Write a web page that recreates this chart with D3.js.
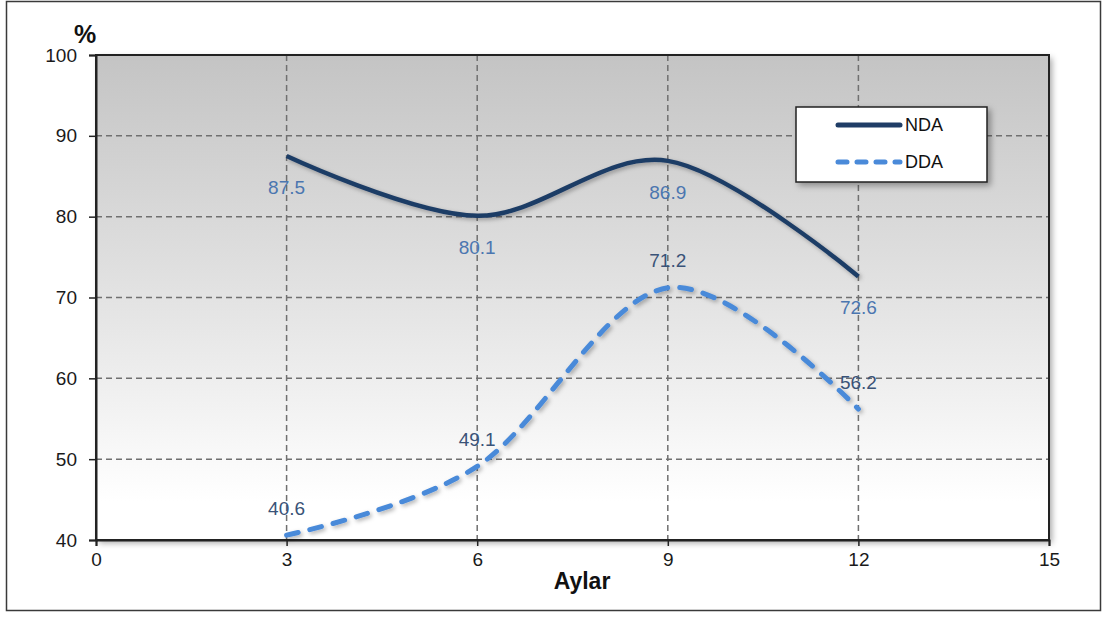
<!DOCTYPE html>
<html><head><meta charset="utf-8">
<script src="https://cdn.jsdelivr.net/npm/d3@7"></script>
<style>html,body{margin:0;padding:0;background:#fff;}svg{display:block;font-family:"Liberation Sans",Arial,sans-serif;}</style>
</head><body>
<svg id="c" width="1103" height="617"></svg>
<script>
const months = [3, 6, 9, 12];
const ndaValues = [87.5, 80.1, 86.9, 72.6];
const ddaValues = [40.6, 49.1, 71.2, 56.2];
const seriesNames = ["NDA", "DDA"];
const xTicks = [0, 3, 6, 9, 12, 15];
const yTicks = [40, 50, 60, 70, 80, 90, 100];

const svg = d3.select("#c");
const L = 96, R = 1049, T = 55, B = 540;
const x = d3.scaleLinear().domain([0, 15]).range([L, R]);
const y = d3.scaleLinear().domain([40, 100]).range([B, T]);

const defs = svg.append("defs");
const g = defs.append("linearGradient").attr("id","bg").attr("x1",0).attr("y1",0).attr("x2",0).attr("y2",1);
g.append("stop").attr("offset","0%").attr("stop-color","#c4c4c4");
g.append("stop").attr("offset","55%").attr("stop-color","#e6e6e6");
g.append("stop").attr("offset","92%").attr("stop-color","#ffffff");
g.append("stop").attr("offset","100%").attr("stop-color","#ffffff");
const f = defs.append("filter").attr("id","sh").attr("x","-10%").attr("y","-10%").attr("width","130%").attr("height","130%");
f.append("feDropShadow").attr("dx",3).attr("dy",3).attr("stdDeviation",3).attr("flood-color","#000").attr("flood-opacity",0.35);
const f2 = defs.append("filter").attr("id","lsh").attr("x","-10%").attr("y","-20%").attr("width","130%").attr("height","150%");
f2.append("feDropShadow").attr("dx",2).attr("dy",2).attr("stdDeviation",2).attr("flood-color","#000").attr("flood-opacity",0.3);

// outer border
svg.append("rect").attr("x",6.5).attr("y",1.5).attr("width",1094).attr("height",609)
  .attr("fill","#fff").attr("stroke","#3a3a3a").attr("stroke-width",1.5);

// plot area
svg.append("rect").attr("x",L).attr("y",T).attr("width",R-L).attr("height",B-T)
  .attr("fill","url(#bg)").attr("filter","url(#sh)");

// grid
const grid = svg.append("g").attr("stroke","#707070").attr("stroke-width",1.5).attr("stroke-dasharray","6,4");
grid.selectAll(".gy").data(yTicks.filter(v=>v>40 && v<100)).enter().append("line")
  .attr("x1",L).attr("x2",R).attr("y1",d=>y(d)).attr("y2",d=>y(d));
grid.selectAll(".gx").data(xTicks.filter(v=>v>0 && v<15)).enter().append("line")
  .attr("y1",T).attr("y2",B).attr("x1",d=>x(d)).attr("x2",d=>x(d));

// frame
svg.append("rect").attr("x",L).attr("y",T).attr("width",R-L).attr("height",B-T)
  .attr("fill","none").attr("stroke","#222").attr("stroke-width",2);

// axes
const yAxis = svg.append("g").attr("transform",`translate(${L},0)`)
  .call(d3.axisLeft(y).tickValues(yTicks).tickSize(7).tickPadding(12));
const xAxis = svg.append("g").attr("transform",`translate(0,${B})`)
  .call(d3.axisBottom(x).tickValues(xTicks).tickSize(6).tickPadding(7));
[yAxis,xAxis].forEach(a=>{
  a.select(".domain").attr("stroke","#222").attr("stroke-width",2);
  a.selectAll(".tick line").attr("stroke","#222").attr("stroke-width",1.5);
  a.selectAll(".tick text").attr("font-size",19).attr("fill","#1a1a1a").attr("font-family","Liberation Sans, Arial, sans-serif");
});

// lines
const line = d3.line().x(d=>x(d[0])).y(d=>y(d[1])).curve(d3.curveCardinal.tension(0));
const nda = months.map((m,i)=>[m, ndaValues[i]]);
const dda = months.map((m,i)=>[m, ddaValues[i]]);
svg.append("path").datum(nda).attr("d",line).attr("fill","none")
  .attr("stroke","#1f3d66").attr("stroke-width",4.5).attr("filter","url(#lsh)");
svg.append("path").datum(dda).attr("d",line).attr("fill","none")
  .attr("stroke","#4a8ad9").attr("stroke-width",5).attr("stroke-dasharray","12,12").attr("stroke-linecap","round").attr("filter","url(#lsh)");

// labels
svg.selectAll(".ln").data(nda).enter().append("text")
  .attr("x",d=>x(d[0])).attr("y",d=>y(d[1])+31).attr("dy","0.35em")
  .attr("text-anchor","middle").attr("font-size",19).attr("fill","#4b76b0")
  .text(d=>d3.format(".1f")(d[1]));
svg.selectAll(".ld").data(dda).enter().append("text")
  .attr("x",d=>x(d[0])).attr("y",d=>y(d[1])-27).attr("dy","0.35em")
  .attr("text-anchor","middle").attr("font-size",19).attr("fill","#3a5378")
  .text(d=>d3.format(".1f")(d[1]));

// axis titles
svg.append("text").attr("x",85).attr("y",43).attr("text-anchor","middle")
  .attr("font-size",25).attr("font-weight","bold").attr("fill","#111").text("%");
svg.append("text").attr("x",582).attr("y",589).attr("text-anchor","middle")
  .attr("font-size",23).attr("font-weight","bold").attr("fill","#111").text("Aylar");

// legend
const lg = svg.append("g");
lg.append("rect").attr("x",796).attr("y",107).attr("width",191).attr("height",75)
  .attr("fill","#fff").attr("stroke","#222").attr("stroke-width",1.5).attr("filter","url(#sh)");
const items = [{name:seriesNames[0], color:"#1f3d66", dash:null, y:125},
               {name:seriesNames[1], color:"#4a8ad9", dash:"9,10", y:162}];
items.forEach(it=>{
  const ln = lg.append("line").attr("x1",838).attr("x2",900).attr("y1",it.y).attr("y2",it.y)
    .attr("stroke",it.color).attr("stroke-width",5).attr("stroke-linecap","round");
  if(it.dash) ln.attr("stroke-dasharray",it.dash);
  lg.append("text").attr("x",905).attr("y",it.y).attr("dy","0.35em").attr("font-size",18)
    .attr("fill","#111").text(it.name);
});
</script>
</body></html>
